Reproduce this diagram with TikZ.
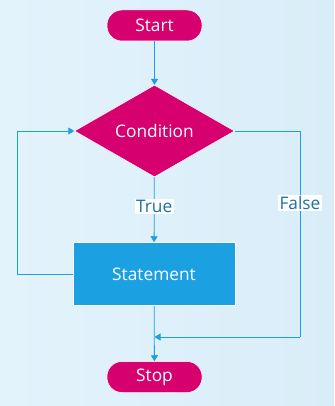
\documentclass[tikz,border=0pt]{standalone}
\usepackage{fontspec}
\setmainfont{Open Sans}
\usetikzlibrary{arrows.meta,shapes.geometric,positioning}
\definecolor{flowmagenta}{RGB}{214,0,111}
\definecolor{flowblue}{RGB}{27,161,226}
\definecolor{labelblue}{RGB}{28,112,165}
\definecolor{bgleft}{RGB}{227,243,252}
\definecolor{bgright}{RGB}{217,237,248}
\begin{document}
\begin{tikzpicture}[x=1pt, y=-1pt,
  flowfont/.style={font=\fontsize{17.3}{20}\selectfont},
  terminal/.style={rectangle, rounded corners=15pt, fill=flowmagenta, draw=white, line width=0.5pt,
    minimum width=95pt, minimum height=31pt, text=white, flowfont},
  decision/.style={diamond, fill=flowmagenta, draw=white, line width=0.5pt, inner sep=0pt,
    minimum width=160pt, minimum height=64pt, text=white, flowfont},
  process/.style={rectangle, fill=flowblue, draw=white, line width=0.5pt,
    minimum width=162pt, minimum height=63pt, text=white, flowfont},
  flow/.style={draw=flowblue, line width=0.8pt, -{Triangle[length=6pt, width=7pt]}},
  link/.style={draw=flowblue, line width=0.8pt},
  branch/.style={fill=white, text=labelblue, inner sep=1.5pt, flowfont}
]
  % background
  \shade[left color=bgleft, right color=bgright] (0,0) rectangle (334,406);
  \useasboundingbox (0,0) rectangle (334,406);
  % blocks
  \node[terminal] (start) at (154.5,25.5) {Start};
  \node[decision] (cond) at (154.5,131) {Condition};
  \node[process] (stmt) at (154,274) {Statement};
  \node[terminal] (stop) at (154.5,377) {Stop};
  % corners of the loops
  \coordinate (loopcorner) at (17,274);
  \coordinate (exitcorner) at (300,131);
  \coordinate (merge) at (154.5,337);
  % connectors
  \draw[flow] (start) -- (cond);
  \draw[flow] (cond) -- node[branch, pos=0.45] {True} (stmt);
  \draw[flow] (stmt.west) -- (loopcorner) |- (cond.west);
  \draw[link] (cond.east) -- (exitcorner) -- node[branch, pos=0.35] {False} (exitcorner |- merge);
  \draw[flow] (exitcorner |- merge) -- (merge);
  \draw[flow] (stmt) -- (stop);
\end{tikzpicture}
\end{document}
